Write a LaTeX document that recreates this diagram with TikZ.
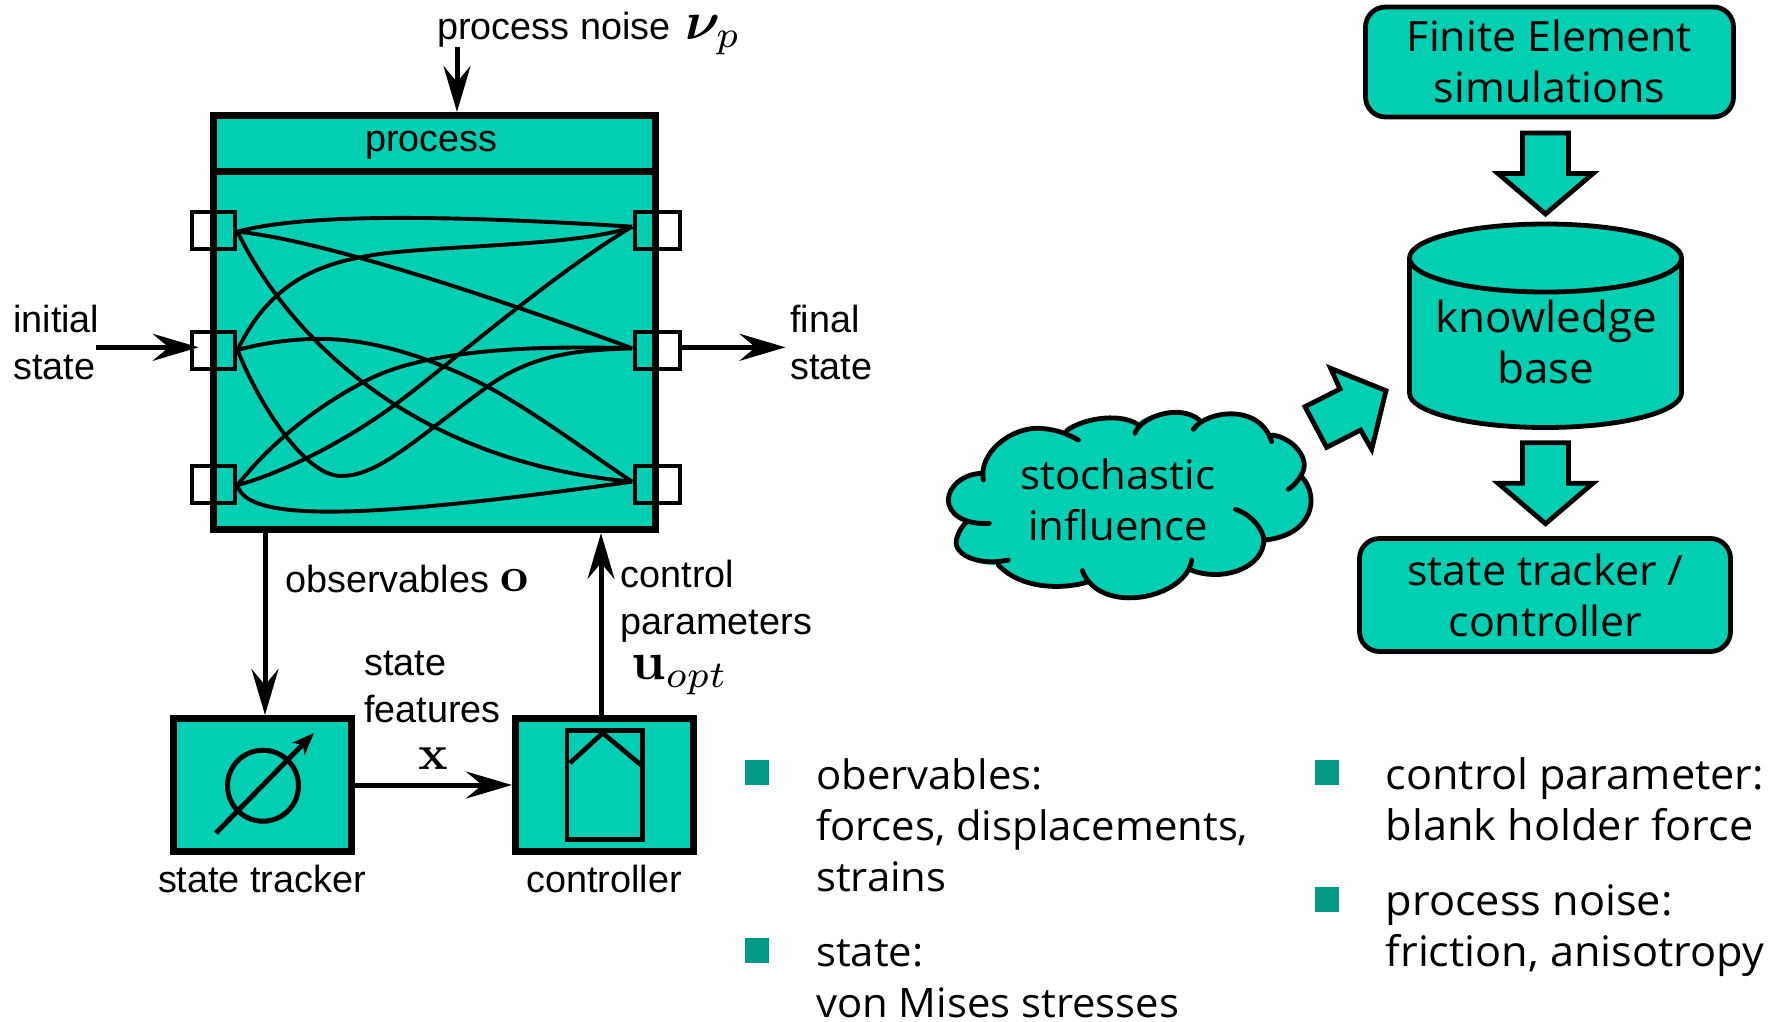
\documentclass[tikz,border=0pt]{standalone}
\usepackage{amsmath,bm}
\usepackage[no-math]{fontspec}
\setmainfont[FakeStretch=1.03]{Open Sans}
\newfontfamily\helv{Liberation Sans}
\usetikzlibrary{arrows.meta,calc}
\definecolor{teal1}{HTML}{00CFB4}
\definecolor{teal2}{HTML}{009A87}
\tikzset{
  tbox/.style={draw=black,line width=7pt,fill=teal1,inner sep=0pt},
  portbox/.style={draw=black,line width=4.6pt,inner sep=0pt,minimum width=43pt,minimum height=37pt},
  portr/.style={portbox,minimum width=45pt},
  wire/.style={draw=black,line width=3.9pt},
  arr/.style={draw=black,line width=5pt,-{Stealth[length=46pt,width=27pt,inset=16pt]}},
  lbl/.style={inner sep=0pt,font=\helv\fontsize{37.8}{47}\selectfont,align=left},
  mlbl/.style={inner sep=0pt,scale=4.9},
  mlblb/.style={inner sep=0pt,scale=5.4},
  rbox/.style={draw=black,line width=4.8pt,fill=teal1,rounded corners=20pt,inner sep=0pt},
  big/.style={inner sep=0pt,font=\fontsize{41.7}{50.5}\selectfont,align=center},
  bigk/.style={inner sep=0pt,font=\fontsize{42.7}{50.5}\selectfont,align=center},
  bigs/.style={inner sep=0pt,font=\fontsize{40.7}{50.5}\selectfont,align=center},
  blt/.style={inner sep=0pt,font=\fontsize{40.6}{51}\selectfont,align=left,anchor=base west},
  bltr/.style={inner sep=0pt,font=\fontsize{42}{51}\selectfont,align=left,anchor=base west},
  sq/.style={fill=teal2,draw=none,inner sep=0pt,minimum width=24pt,minimum height=25pt},
  shp/.style={draw=black,line width=4.8pt,fill=teal1,miter limit=10},
  cl/.style={draw=black,line width=4.8pt,line cap=round}
}
\begin{document}
\begin{tikzpicture}[x=1pt,y=-1pt]
\useasboundingbox (0,0) rectangle (1781,1021);
% process block
\node[tbox,minimum width=442pt,minimum height=414pt] (proc) at (434.5,322.5) {};
\coordinate (divy) at (0,171);
\draw[line width=7pt] (proc.west |- divy) -- (proc.east |- divy);
\node[lbl,anchor=base] (ptitle) at (431.5,151) {process};
% wires
\begin{scope}[shift={(150pt,-100pt)},x=0.35714pt,y=-0.33333pt]
\coordinate (a1) at (245,395); \coordinate (a2) at (245,750); \coordinate (a3) at (245,1155);
\coordinate (b1) at (1350,380); \coordinate (b2) at (1350,745); \coordinate (b3) at (1350,1145);
\draw[wire] (a1) .. controls (450,335) and (900,350) .. (b1);
\draw[wire] (a1) .. controls (480,420) and (960,590) .. (b2);
\draw[wire] (a1) .. controls (360,650) and (680,1080) .. (b3);
\draw[wire] (a2) .. controls (340,540) and (480,490) .. (625,465) .. controls (800,435) and (1200,440) .. (b1);
\draw[wire] (a2) .. controls (330,725) and (420,715) .. (490,717) .. controls (640,720) and (800,780) .. (945,860) .. controls (1090,945) and (1230,1060) .. (b3);
\draw[wire] (a2) .. controls (300,900) and (430,1128) .. (535,1128) .. controls (640,1128) and (740,1020) .. (945,860) .. controls (1080,755) and (1220,750) .. (b2);
\draw[wire] (a3) .. controls (320,1135) and (500,1060) .. (685,915) .. controls (830,800) and (1130,520) .. (b1);
\draw[wire] (a3) .. controls (330,1040) and (450,930) .. (595,848) .. controls (700,785) and (900,730) .. (b2);
\draw[wire] (a3) .. controls (270,1275) and (650,1250) .. (b3);
\end{scope}
% ports
\node[portbox] (pl1) at (213.5,230.5) {};
\node[portbox] (pl2) at (213.5,350.5) {};
\node[portbox] (pl3) at (213.5,484.5) {};
\node[portr] (pr1) at (657.5,230.5) {};
\node[portr] (pr2) at (657.5,350.5) {};
\node[portr] (pr3) at (657.5,484.5) {};
% tracker, controller
\node[tbox,minimum width=178pt,minimum height=133pt] (track) at (262.5,785) {};
\node[tbox,minimum width=177.5pt,minimum height=133pt] (ctrl) at (604.25,785) {};
\node[draw=black,line width=5pt,circle,inner sep=0pt,minimum size=71pt] (phi) at (263,785.7) {};
\coordinate (ps) at (216,833); \coordinate (pe) at (314,733);
\draw[line width=5pt,-{Stealth[length=22pt,width=17pt,inset=6pt]}] (ps) -- (pe);
\node[draw=black,line width=4.7pt,inner sep=0pt,minimum width=75.7pt,minimum height=109pt] (ctin) at (604.85,785) {};
\coordinate (c1) at (570,763); \coordinate (c2) at (602.7,733); \coordinate (c3) at (641,765);
\draw[line width=4.7pt] (c1) -- (c2) -- (c3);
% arrows
\coordinate (nstart) at (457,47);
\draw[arr] (nstart) -- (nstart |- proc.north);
\coordinate (istart) at (96,347.3);
\draw[arr] (istart) -- ([xshift=9pt]pl2.west |- istart);
\coordinate (fend) at (785.5,347.3);
\draw[arr] (pr2.east |- fend) -- (fend);
\coordinate (obsx) at (265,600);
\draw[arr] (obsx |- proc.south) -- (obsx |- track.north);
\coordinate (ctlx) at (601,600);
\draw[arr] (ctlx |- ctrl.north) -- (ctlx |- proc.south);
\draw[arr] (track.east) -- (ctrl.west);
% left labels
\node[lbl,anchor=base west] (lnoise) at (437,39.5) {process noise};
\node[mlblb,anchor=base west] (mnu) at (684,39.5) {$\boldsymbol{\nu}_p$};
\node[lbl,anchor=base west] (linit) at (13,379) {initial\\state};
\node[lbl,anchor=base west] (lfin) at (790,379.5) {final\\state};
\node[lbl,anchor=base west] (lobs) at (285,592.7) {observables};
\node[mlbl,anchor=base west] (mo) at (499.5,591.7) {$\mathbf{o}$};
\node[lbl,anchor=base west] (lctl) at (620.6,634.5) {control\\parameters};
\node[mlblb,anchor=base west] (mu) at (630,679) {$\mathbf{u}_{opt}$};
\node[lbl,anchor=base west] (lsf) at (364,722.7) {state\\features};
\node[mlbl,anchor=base west] (mx) at (418,769) {$\mathbf{x}$};
\node[lbl,anchor=base] (ltr) at (262,892.7) {state tracker};
\node[lbl,anchor=base] (lct) at (604,892.7) {controller};
% right diagram
\node[rbox,minimum width=368pt,minimum height=110pt] (fe) at (1549.5,62) {};
\node[big,anchor=base] (fet) at (1549.5,102) {Finite Element\\simulations};
\node[rbox,minimum width=371pt,minimum height=113pt] (st) at (1545,595) {};
\node[big,anchor=base] (stt) at (1545.5,636) {state tracker /\\controller};
\draw[shp] (1409.5,258) -- (1409.5,393) .. controls (1409.5,412) and (1470,427.5) .. (1545.5,427.5) .. controls (1621,427.5) and (1681.5,412) .. (1681.5,393) -- (1681.5,258) .. controls (1681.5,239) and (1620.6,224) .. (1545.5,224) .. controls (1470,224) and (1409.5,239) .. (1409.5,258) .. controls (1409.5,277) and (1470,292) .. (1545.5,292) .. controls (1620.6,292) and (1681.5,277) .. (1681.5,258);
\node[bigk,anchor=base] (kb) at (1546,383) {knowledge\\base};
\draw[shp] (1522.5,133) -- (1568.5,133) -- (1568.5,173.5) -- (1593,173.5) -- (1545.5,214) -- (1498,173.5) -- (1522.5,173.5) -- cycle;
\draw[shp] (1522.5,442.7) -- (1568.5,442.7) -- (1568.5,483.2) -- (1593,483.2) -- (1545.5,523.7) -- (1498,483.2) -- (1522.5,483.2) -- cycle;
% cloud
\begin{scope}[shift={(920pt,-340pt)},x=0.33333pt,y=-0.33333pt]
\fill[teal1] (188,400) .. controls (175,340) and (270,265) .. (350,265) .. controls (385,265) and (415,270) .. (440,272)
 .. controls (480,240) and (590,215) .. (650,252) .. controls (680,215) and (790,205) .. (838,240)
 .. controls (880,215) and (1000,205) .. (1040,270) -- (1056,285) .. controls (1120,295) and (1160,350) .. (1152,385) -- (1148,410)
 .. controls (1200,470) and (1180,585) .. (1035,600) -- (1030,615) .. controls (1015,690) and (900,725) .. (812,690)
 .. controls (780,770) and (570,815) .. (500,727) .. controls (420,750) and (300,745) .. (235,675)
 .. controls (170,680) and (90,640) .. (112,590) -- (138,548) .. controls (100,530) and (85,510) .. (85,480) .. controls (85,440) and (130,400) .. (188,400) -- cycle;
\draw[cl] (190,420) .. controls (175,340) and (270,265) .. (350,265) .. controls (400,265) and (440,280) .. (475,300);
\draw[cl] (440,272) .. controls (480,240) and (590,215) .. (652,252);
\draw[cl] (645,280) .. controls (660,230) and (780,190) .. (838,240);
\draw[cl] (820,268) .. controls (860,210) and (1020,190) .. (1055,305);
\draw[cl] (1058,285) .. controls (1120,295) and (1160,350) .. (1152,385) .. controls (1145,410) and (1125,435) .. (1105,448);
\draw[cl] (1145,410) .. controls (1200,470) and (1180,585) .. (1035,600);
\draw[cl] (947,508) .. controls (1010,530) and (1040,590) .. (1030,615) .. controls (1015,690) and (900,725) .. (812,690);
\draw[cl] (815,660) .. controls (800,775) and (540,830) .. (487,692);
\draw[cl] (500,727) .. controls (420,750) and (300,745) .. (235,675);
\draw[cl] (265,660) .. controls (170,680) and (90,640) .. (112,590) .. controls (118,570) and (130,555) .. (140,545);
\draw[cl] (208,550) .. controls (130,555) and (85,520) .. (85,480) .. controls (85,440) and (130,400) .. (188,400);
\draw[shp] (1155,200) -- (1220,322) -- (1322,270) -- (1355,328) -- (1398,152) -- (1232,85) -- (1260,147) -- cycle;
\end{scope}
\node[bigs,anchor=base] (stoch) at (1118,540) {stochastic\\influence};
% bullets
\node[sq] (s1) at (757,772.5) {};
\node[sq] (s2) at (757,950.5) {};
\node[sq] (s3) at (1327,772.5) {};
\node[sq] (s4) at (1327,899.5) {};
\node[blt] (t1) at (816,891) {obervables:\\forces, displacements,\\strains};
\node[blt] (t2) at (816,1017) {state:\\von Mises stresses};
\node[bltr] (t3) at (1385.5,840) {control parameter:\\blank holder force};
\node[bltr] (t4) at (1385.5,966) {process noise:\\friction, anisotropy};
\end{tikzpicture}
\end{document}
